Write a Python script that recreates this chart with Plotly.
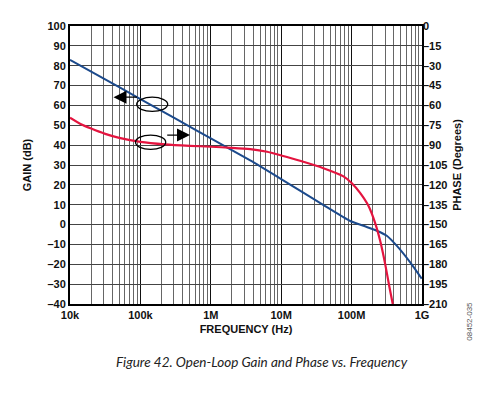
import plotly.graph_objects as go

# ---- data ----
gain_freq_hz = [1.0e4, 3.16e4, 1.0e5, 3.16e5, 1.0e6, 3.63e6, 1.0e7, 1.85e7,
                4.21e7, 9.53e7, 1.58e8, 2.28e8, 3.16e8, 4.37e8, 6.76e8, 9.91e8]
gain_db = [83.0, 73.1, 63.2, 53.3, 43.4, 32.3, 22.9, 17.1,
           9.3, 1.8, -1.0, -3.1, -5.6, -10.6, -18.9, -27.2]

phase_freq_hz = [1.0e4, 1.41e4, 2.0e4, 3.16e4, 5.01e4, 1.0e5, 2.24e5, 5.01e5,
                 1.0e6, 2.0e6, 3.63e6, 6.31e6, 1.0e7, 1.85e7, 3.98e7, 7.66e7,
                 1.0e8, 1.32e8, 1.74e8, 2.15e8, 2.54e8, 2.99e8, 3.44e8, 3.84e8]
phase_deg = [-69.3, -74.0, -77.5, -81.5, -84.5, -87.5, -89.4, -90.5,
             -91.2, -92.0, -93.0, -95.0, -97.8, -101.8, -107.4, -113.6,
             -118.6, -126.1, -136.0, -148.5, -162.1, -179.5, -197.0, -210.0]

x_tick_vals = [1e4, 1e5, 1e6, 1e7, 1e8, 1e9]
x_tick_text = ["10k", "100k", "1M", "10M", "100M", "1G"]
x_minor_vals = [m * d for d in [1e4, 1e5, 1e6, 1e7, 1e8] for m in range(2, 10)]

gain_tick_vals = list(range(-40, 101, 10))
gain_tick_text = [("–" + str(-v)) if v < 0 else str(v) for v in gain_tick_vals]
phase_tick_vals = list(range(-210, 1, 15))
phase_tick_text = [("–" + str(-v)) if v < 0 else str(v) for v in phase_tick_vals]

BLUE = "#1c4a8c"
RED = "#e4143f"
FONT = "Liberation Sans"

fig = go.Figure()
fig.add_trace(go.Scatter(x=gain_freq_hz, y=gain_db, mode="lines",
                         line=dict(color=BLUE, width=2, shape="spline", smoothing=0.5),
                         showlegend=False, hoverinfo="skip"))
fig.add_trace(go.Scatter(x=phase_freq_hz, y=phase_deg, mode="lines", yaxis="y2",
                         line=dict(color=RED, width=2.2, shape="spline", smoothing=0.5),
                         showlegend=False, hoverinfo="skip"))

tickfont = dict(family=FONT, size=11, color="#111", weight="bold")
titlefont = dict(family=FONT, size=11, color="#111", weight="bold")

# page body has an 8px margin, so the figure is 8px smaller and top/left margins shifted
fig.update_layout(
    width=483, height=387,
    margin=dict(l=62, r=69, t=15, b=91, pad=0),
    paper_bgcolor="white", plot_bgcolor="white",
    xaxis=dict(type="log", range=[4, 9], tickvals=x_tick_vals, ticktext=x_tick_text,
               tickfont=tickfont, ticks="", ticklen=0,
               showgrid=True, gridcolor="#111", gridwidth=1.3,
               minor=dict(tickvals=x_minor_vals, showgrid=True, gridcolor="#666", gridwidth=1.1, ticks=""),
               showline=True, linecolor="black", linewidth=2, mirror=True,
               title=dict(text="FREQUENCY (Hz)", font=titlefont, standoff=5),
               zeroline=False),
    yaxis=dict(range=[-40, 100], tickvals=gain_tick_vals, ticktext=gain_tick_text,
               tickfont=tickfont, ticks="", showgrid=True, gridcolor="#444", gridwidth=1.2,
               showline=True, linecolor="black", linewidth=2, mirror=True,
               title=dict(text="GAIN (dB)", font=titlefont, standoff=14),
               zeroline=False),
    yaxis2=dict(range=[-210, 0], tickvals=phase_tick_vals, ticktext=phase_tick_text,
                overlaying="y", side="right", tickfont=tickfont, ticks="",
                showgrid=False, zeroline=False, showline=False,
                title=dict(text="PHASE (Degrees)", font=titlefont, standoff=6)),
)

# ellipses marking which axis each curve uses (plot-domain fractions)
fig.add_shape(type="circle", xref="x domain", yref="y domain",
              x0=0.1895, x1=0.2776, y0=0.6929, y1=0.7438,
              line=dict(color="black", width=1.3))
fig.add_shape(type="circle", xref="x domain", yref="y domain",
              x0=0.1861, x1=0.2719, y0=0.5562, y1=0.6075,
              line=dict(color="black", width=1.3))
# arrows
fig.add_annotation(x=0.1236, y=0.7438, ax=0.1946, ay=0.7438,
                   xref="x domain", yref="y domain", axref="x domain", ayref="y domain",
                   text="", showarrow=True, arrowhead=2, arrowsize=2, arrowwidth=1.3, arrowcolor="black")
fig.add_annotation(x=0.3409, y=0.6075, ax=0.2719, ay=0.6075,
                   xref="x domain", yref="y domain", axref="x domain", ayref="y domain",
                   text="", showarrow=True, arrowhead=2, arrowsize=2, arrowwidth=1.3, arrowcolor="black")

# caption and figure code
fig.add_annotation(text="Figure 42. Open-Loop Gain and Phase vs. Frequency",
                   xref="paper", yref="paper", x=0.545, y=-0.21, xanchor="center", yanchor="middle",
                   showarrow=False, font=dict(family="Lato", size=13.5, color="#222", style="italic"))
fig.add_annotation(text="08452-035", xref="paper", yref="paper", x=1.136, y=-0.0605,
                   xanchor="center", yanchor="middle", textangle=-90, showarrow=False,
                   font=dict(family=FONT, size=8, color="#555"))

fig.write_html("out.html")
